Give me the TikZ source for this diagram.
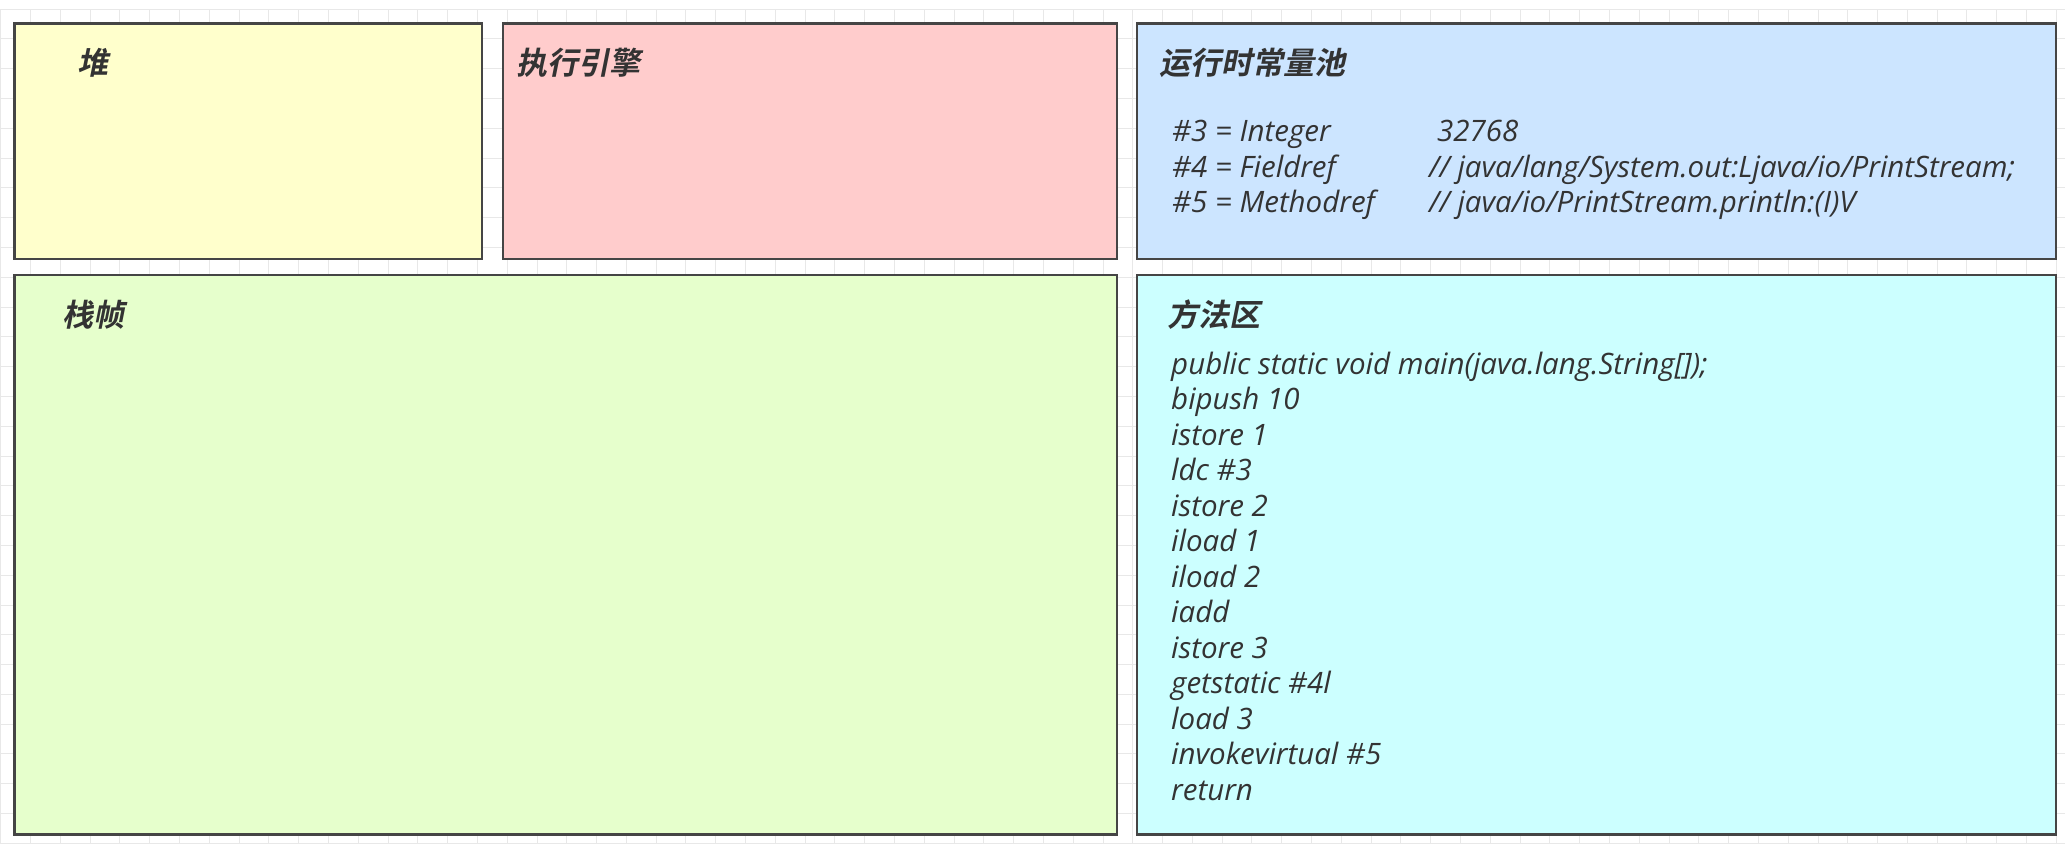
\documentclass[tikz,border=0pt]{standalone}
\usepackage{fontspec}
\setmainfont{Open Sans}
\newfontfamily\cjkb{Noto Sans CJK SC Bold}[FakeSlant=0.2]
\definecolor{gridc}{HTML}{E8E8E8}
\definecolor{edgec}{HTML}{454545}
\definecolor{txtc}{HTML}{333333}
\definecolor{heapc}{HTML}{FFFFCC}
\definecolor{engc}{HTML}{FFCCCC}
\definecolor{poolc}{HTML}{CCE5FF}
\definecolor{framec}{HTML}{E6FFCC}
\definecolor{methc}{HTML}{CCFFFF}
\tikzset{
  area/.style={draw=edgec, line width=2.2pt, anchor=north west, inner sep=0pt, outer sep=0pt},
  ttl/.style={anchor=base west, inner sep=0pt, text=txtc, font=\cjkb\fontsize{31}{31}\selectfont},
  code/.style={anchor=base west, inner sep=0pt, text=txtc, font=\itshape\fontsize{29.5}{29.5}\selectfont},
}
\begin{document}
\begin{tikzpicture}[x=1pt,y=-1pt]
\useasboundingbox (0,0) rectangle (2065,844);
\fill[white] (0,0) rectangle (2065,844);
\foreach \i in {0,...,69} \draw[gridc, line width=1pt] ({0.8+29.79*\i},9) -- ({0.8+29.79*\i},844);
\foreach \j in {0,...,28} \draw[gridc, line width=1pt] (0,{9.2+29.79*\j}) -- (2065,{9.2+29.79*\j});

\node[area, fill=heapc, minimum width=467.5pt, minimum height=235.5pt] (heap) at (14.5,23.5) {};
\node[area, fill=engc, minimum width=614pt, minimum height=235.5pt] (engine) at (503,23.5) {};
\node[area, fill=poolc, minimum width=919pt, minimum height=235.5pt] (pool) at (1137,23.5) {};
\node[area, fill=framec, minimum width=1102.5pt, minimum height=559.5pt] (frame) at (14.5,275) {};
\node[area, fill=methc, minimum width=919pt, minimum height=559.5pt] (method) at (1137,275) {};

\node[ttl] (heapt) at (77,74) {堆};
\node[ttl] (enginet) at (516,74) {执行引擎};
\node[ttl] (poolt) at (1159,74) {运行时常量池};
\node[ttl] (framet) at (62,326) {栈帧};
\node[ttl] (methodt) at (1167,326) {方法区};

\node[code] (p3) at (1172,141.5) {\#3 = Integer};
\node[code] (p3v) at (1437,141.5) {32768};
\node[code] (p4) at (1172,177) {\#4 = Fieldref};
\node[code] (p4v) at (1429,177) {// java/lang/System.out:Ljava/io/PrintStream;};
\node[code] (p5) at (1172,212.5) {\#5 = Methodref};
\node[code] (p5v) at (1429,212.5) {// java/io/PrintStream.println:(I)V};

\foreach \t [count=\k from 0] in {public static void main(java.lang.String[]);,bipush 10,istore 1,ldc \#3,istore 2,iload 1,iload 2,iadd,istore 3,getstatic \#4l,load 3,invokevirtual \#5,return}
  \node[code] (m\k) at (1171,{374+35.5*\k}) {\t};
\end{tikzpicture}
\end{document}
